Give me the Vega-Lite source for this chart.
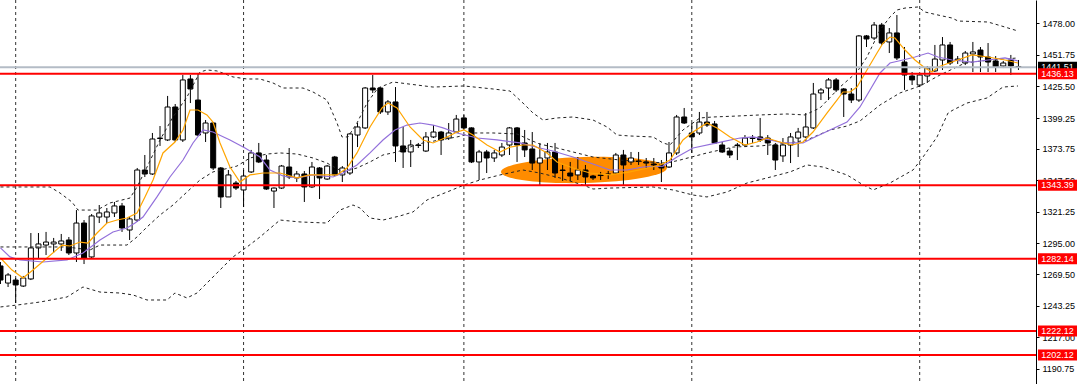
{
  "$schema": "https://vega.github.io/schema/vega-lite/v6.json",
  "width": 1036,
  "height": 384,
  "autosize": {"type": "none"},
  "padding": {"left": 0, "top": 0, "right": 44, "bottom": 0},
  "background": "white",
  "config": {
    "view": {"stroke": null},
    "scale": {"continuousPadding": 0},
    "axisY": {"orient": "right", "title": null, "grid": false, "format": ".2f", "labelFont": "Liberation Sans", "labelFontSize": 9, "labelColor": "black", "tickSize": 3, "tickColor": "black", "domainColor": "black", "labelPadding": 3, "labelOverlap": false}
  },
  "datasets": {
    "candles": [
      {"i":0,"o":1276.2,"h":1279.5,"l":1261.2,"c":1264.5},
      {"i":1,"o":1262.0,"h":1270.3,"l":1258.7,"c":1268.7},
      {"i":2,"o":1264.5,"h":1266.2,"l":1245.4,"c":1260.4},
      {"i":3,"o":1259.5,"h":1267.9,"l":1258.7,"c":1266.2},
      {"i":4,"o":1265.4,"h":1303.6,"l":1264.5,"c":1291.2},
      {"i":5,"o":1291.2,"h":1303.6,"l":1282.8,"c":1294.5},
      {"i":6,"o":1293.6,"h":1304.5,"l":1285.3,"c":1296.1},
      {"i":7,"o":1294.5,"h":1299.5,"l":1287.0,"c":1296.1},
      {"i":8,"o":1294.5,"h":1302.8,"l":1288.7,"c":1297.0},
      {"i":9,"o":1297.8,"h":1300.3,"l":1285.3,"c":1287.0},
      {"i":10,"o":1287.0,"h":1322.7,"l":1279.5,"c":1311.9},
      {"i":11,"o":1311.9,"h":1314.4,"l":1277.8,"c":1282.8},
      {"i":12,"o":1283.7,"h":1319.4,"l":1282.8,"c":1317.8},
      {"i":13,"o":1316.9,"h":1326.9,"l":1311.9,"c":1320.3},
      {"i":14,"o":1316.9,"h":1324.4,"l":1311.9,"c":1321.1},
      {"i":15,"o":1320.3,"h":1329.4,"l":1316.9,"c":1326.1},
      {"i":16,"o":1326.1,"h":1328.6,"l":1304.5,"c":1307.8},
      {"i":17,"o":1306.1,"h":1316.9,"l":1297.8,"c":1315.3},
      {"i":18,"o":1314.4,"h":1357.7,"l":1312.8,"c":1356.0},
      {"i":19,"o":1356.0,"h":1368.5,"l":1350.2,"c":1352.7},
      {"i":20,"o":1352.7,"h":1386.8,"l":1351.9,"c":1381.8},
      {"i":21,"o":1382.2,"h":1392.6,"l":1376.0,"c":1382.6},
      {"i":22,"o":1381.0,"h":1417.6,"l":1380.1,"c":1408.4},
      {"i":23,"o":1408.4,"h":1410.9,"l":1379.3,"c":1381.0},
      {"i":24,"o":1381.0,"h":1435.0,"l":1379.3,"c":1430.9},
      {"i":25,"o":1431.7,"h":1435.0,"l":1411.7,"c":1423.4},
      {"i":26,"o":1414.2,"h":1436.7,"l":1384.3,"c":1385.1},
      {"i":27,"o":1386.8,"h":1397.6,"l":1379.3,"c":1395.1},
      {"i":28,"o":1395.1,"h":1395.9,"l":1356.0,"c":1357.7},
      {"i":29,"o":1357.7,"h":1358.5,"l":1324.4,"c":1333.6},
      {"i":30,"o":1333.6,"h":1356.0,"l":1333.6,"c":1351.9},
      {"i":31,"o":1345.2,"h":1346.9,"l":1339.4,"c":1341.0},
      {"i":32,"o":1339.4,"h":1356.0,"l":1325.2,"c":1351.0},
      {"i":33,"o":1354.4,"h":1372.7,"l":1353.5,"c":1370.2},
      {"i":34,"o":1370.2,"h":1378.5,"l":1361.8,"c":1362.7},
      {"i":35,"o":1364.3,"h":1368.5,"l":1339.4,"c":1340.2},
      {"i":36,"o":1338.5,"h":1341.5,"l":1324.4,"c":1341.0},
      {"i":37,"o":1341.0,"h":1360.2,"l":1340.2,"c":1359.3},
      {"i":38,"o":1358.5,"h":1374.3,"l":1348.5,"c":1350.2},
      {"i":39,"o":1349.4,"h":1355.2,"l":1346.0,"c":1352.7},
      {"i":40,"o":1352.7,"h":1355.2,"l":1329.4,"c":1341.9},
      {"i":41,"o":1341.9,"h":1362.7,"l":1341.0,"c":1358.5},
      {"i":42,"o":1357.7,"h":1358.5,"l":1331.9,"c":1349.4},
      {"i":43,"o":1348.5,"h":1360.2,"l":1347.7,"c":1359.3},
      {"i":44,"o":1366.8,"h":1367.7,"l":1351.0,"c":1351.9},
      {"i":45,"o":1351.9,"h":1359.3,"l":1346.0,"c":1357.7},
      {"i":46,"o":1353.5,"h":1386.8,"l":1351.9,"c":1386.0},
      {"i":47,"o":1385.1,"h":1395.1,"l":1375.1,"c":1391.8},
      {"i":48,"o":1391.0,"h":1425.0,"l":1390.1,"c":1424.2},
      {"i":49,"o":1424.2,"h":1435.0,"l":1420.1,"c":1422.6},
      {"i":50,"o":1424.2,"h":1425.0,"l":1402.6,"c":1404.3},
      {"i":51,"o":1404.3,"h":1414.2,"l":1401.8,"c":1412.6},
      {"i":52,"o":1412.6,"h":1425.0,"l":1362.7,"c":1376.0},
      {"i":53,"o":1376.0,"h":1391.8,"l":1357.7,"c":1371.0},
      {"i":54,"o":1371.0,"h":1381.0,"l":1358.5,"c":1376.8},
      {"i":55,"o":1376.8,"h":1378.5,"l":1374.3,"c":1376.4},
      {"i":56,"o":1371.8,"h":1387.6,"l":1371.0,"c":1383.5},
      {"i":57,"o":1383.5,"h":1393.4,"l":1382.6,"c":1387.6},
      {"i":58,"o":1387.6,"h":1388.5,"l":1368.5,"c":1381.0},
      {"i":59,"o":1382.6,"h":1395.1,"l":1381.0,"c":1386.8},
      {"i":60,"o":1387.6,"h":1401.8,"l":1386.8,"c":1398.4},
      {"i":61,"o":1399.3,"h":1401.8,"l":1389.3,"c":1391.0},
      {"i":62,"o":1391.0,"h":1391.5,"l":1361.8,"c":1362.7},
      {"i":63,"o":1362.7,"h":1372.7,"l":1347.7,"c":1371.0},
      {"i":64,"o":1371.0,"h":1372.7,"l":1353.5,"c":1366.0},
      {"i":65,"o":1366.0,"h":1372.7,"l":1362.7,"c":1370.2},
      {"i":66,"o":1368.5,"h":1378.5,"l":1366.8,"c":1375.1},
      {"i":67,"o":1376.8,"h":1391.8,"l":1368.5,"c":1391.0},
      {"i":68,"o":1391.0,"h":1391.8,"l":1362.7,"c":1376.8},
      {"i":69,"o":1378.5,"h":1389.3,"l":1366.8,"c":1372.7},
      {"i":70,"o":1373.5,"h":1387.6,"l":1356.0,"c":1361.8},
      {"i":71,"o":1361.8,"h":1378.5,"l":1343.5,"c":1366.0},
      {"i":72,"o":1366.0,"h":1378.5,"l":1356.0,"c":1371.0},
      {"i":73,"o":1371.0,"h":1378.5,"l":1349.4,"c":1353.5},
      {"i":74,"o":1356.0,"h":1360.2,"l":1346.9,"c":1355.6},
      {"i":75,"o":1353.5,"h":1362.7,"l":1346.9,"c":1351.0},
      {"i":76,"o":1351.9,"h":1366.8,"l":1347.7,"c":1356.0},
      {"i":77,"o":1356.0,"h":1360.2,"l":1343.5,"c":1350.2},
      {"i":78,"o":1351.0,"h":1351.9,"l":1347.7,"c":1349.4},
      {"i":79,"o":1351.9,"h":1354.4,"l":1347.7,"c":1351.4},
      {"i":80,"o":1352.3,"h":1355.2,"l":1348.5,"c":1352.7},
      {"i":81,"o":1353.5,"h":1370.2,"l":1352.7,"c":1368.5},
      {"i":82,"o":1368.5,"h":1372.7,"l":1343.5,"c":1360.2},
      {"i":83,"o":1362.7,"h":1371.0,"l":1360.2,"c":1366.0},
      {"i":84,"o":1363.5,"h":1371.0,"l":1360.2,"c":1363.1},
      {"i":85,"o":1362.7,"h":1366.0,"l":1357.7,"c":1361.8},
      {"i":86,"o":1361.0,"h":1366.0,"l":1356.0,"c":1360.2},
      {"i":87,"o":1360.2,"h":1364.3,"l":1346.0,"c":1357.7},
      {"i":88,"o":1358.5,"h":1379.3,"l":1357.7,"c":1370.2},
      {"i":89,"o":1370.2,"h":1401.8,"l":1368.5,"c":1400.1},
      {"i":90,"o":1400.1,"h":1407.6,"l":1394.3,"c":1395.1},
      {"i":91,"o":1386.8,"h":1395.1,"l":1370.2,"c":1383.5},
      {"i":92,"o":1386.8,"h":1404.3,"l":1385.1,"c":1395.9},
      {"i":93,"o":1395.9,"h":1404.3,"l":1391.8,"c":1393.4},
      {"i":94,"o":1394.3,"h":1396.8,"l":1377.6,"c":1378.5},
      {"i":95,"o":1376.8,"h":1379.3,"l":1370.2,"c":1371.0},
      {"i":96,"o":1371.8,"h":1374.3,"l":1366.0,"c":1368.5},
      {"i":97,"o":1376.8,"h":1378.5,"l":1364.3,"c":1376.4},
      {"i":98,"o":1376.8,"h":1385.1,"l":1375.1,"c":1382.6},
      {"i":99,"o":1382.6,"h":1385.1,"l":1378.5,"c":1382.2},
      {"i":100,"o":1383.5,"h":1399.3,"l":1379.3,"c":1381.0},
      {"i":101,"o":1382.6,"h":1385.1,"l":1368.5,"c":1378.5},
      {"i":102,"o":1376.8,"h":1378.5,"l":1356.0,"c":1364.3},
      {"i":103,"o":1367.7,"h":1382.6,"l":1362.7,"c":1376.8},
      {"i":104,"o":1376.8,"h":1386.8,"l":1361.8,"c":1383.5},
      {"i":105,"o":1382.6,"h":1391.0,"l":1366.8,"c":1387.6},
      {"i":106,"o":1383.5,"h":1403.4,"l":1382.6,"c":1391.8},
      {"i":107,"o":1391.0,"h":1428.4,"l":1390.1,"c":1419.2},
      {"i":108,"o":1420.1,"h":1424.2,"l":1414.2,"c":1422.6},
      {"i":109,"o":1424.2,"h":1432.5,"l":1414.2,"c":1430.9},
      {"i":110,"o":1430.9,"h":1432.5,"l":1420.9,"c":1422.6},
      {"i":111,"o":1423.4,"h":1424.2,"l":1400.1,"c":1419.2},
      {"i":112,"o":1419.2,"h":1424.2,"l":1411.7,"c":1414.2},
      {"i":113,"o":1414.2,"h":1468.3,"l":1412.6,"c":1467.5},
      {"i":114,"o":1467.5,"h":1468.3,"l":1458.3,"c":1465.0},
      {"i":115,"o":1465.8,"h":1479.1,"l":1464.1,"c":1476.6},
      {"i":116,"o":1476.6,"h":1478.3,"l":1460.0,"c":1461.6},
      {"i":117,"o":1462.5,"h":1474.1,"l":1453.3,"c":1470.0},
      {"i":118,"o":1470.0,"h":1484.9,"l":1447.5,"c":1449.2},
      {"i":119,"o":1445.8,"h":1458.3,"l":1422.6,"c":1435.0},
      {"i":120,"o":1434.2,"h":1437.5,"l":1426.7,"c":1430.9},
      {"i":121,"o":1426.7,"h":1436.7,"l":1425.0,"c":1435.0},
      {"i":122,"o":1434.2,"h":1442.5,"l":1428.4,"c":1440.8},
      {"i":123,"o":1438.4,"h":1460.0,"l":1437.5,"c":1448.3},
      {"i":124,"o":1447.5,"h":1466.6,"l":1439.2,"c":1460.0},
      {"i":125,"o":1460.0,"h":1462.5,"l":1443.3,"c":1445.0},
      {"i":126,"o":1447.5,"h":1450.8,"l":1444.2,"c":1448.3},
      {"i":127,"o":1445.0,"h":1455.0,"l":1443.3,"c":1453.3},
      {"i":128,"o":1452.5,"h":1462.5,"l":1437.5,"c":1454.2},
      {"i":129,"o":1455.8,"h":1458.3,"l":1437.5,"c":1450.0},
      {"i":130,"o":1450.0,"h":1461.6,"l":1437.5,"c":1445.8},
      {"i":131,"o":1446.7,"h":1450.8,"l":1437.5,"c":1441.7},
      {"i":132,"o":1442.5,"h":1446.7,"l":1440.8,"c":1445.0},
      {"i":133,"o":1447.5,"h":1451.7,"l":1435.0,"c":1442.5},
      {"i":134,"o":1442.1,"h":1447.5,"l":1439.2,"c":1441.51}
    ],
    "orange": [
      {"i":0,"p":1282.8},{"i":1.52,"p":1272.8},{"i":2.96,"p":1266.2},{"i":4.28,"p":1272.8},{"i":6.12,"p":1282.8},
      {"i":8.1,"p":1293.6},{"i":9.15,"p":1292.8},{"i":10.47,"p":1296.1},{"i":11.52,"p":1295.3},{"i":12.71,"p":1303.6},
      {"i":14.02,"p":1311.9},{"i":15.34,"p":1314.4},{"i":16.65,"p":1316.1},{"i":17.97,"p":1320.3},{"i":19.02,"p":1333.6},
      {"i":20.08,"p":1347.7},{"i":21.39,"p":1370.2},{"i":22.97,"p":1379.3},{"i":24.03,"p":1389.3},{"i":24.95,"p":1405.9},
      {"i":26.0,"p":1405.9},{"i":27.18,"p":1401.8},{"i":27.97,"p":1395.9},{"i":28.9,"p":1378.5},{"i":30.21,"p":1358.5},
      {"i":31.53,"p":1346.0},{"i":32.84,"p":1351.9},{"i":34.55,"p":1353.5},{"i":36.79,"p":1353.5},{"i":39.03,"p":1349.4},
      {"i":40.74,"p":1351.9},{"i":44.3,"p":1351.9},{"i":45.61,"p":1357.7},{"i":46.93,"p":1370.2},{"i":48.64,"p":1391.8},
      {"i":50.22,"p":1407.6},{"i":51.01,"p":1411.7},{"i":52.2,"p":1407.6},{"i":53.91,"p":1391.8},{"i":55.62,"p":1381.0},
      {"i":56.94,"p":1378.5},{"i":58.78,"p":1383.5},{"i":60.1,"p":1387.6},{"i":61.02,"p":1389.3},{"i":62.2,"p":1385.1},
      {"i":64.04,"p":1376.8},{"i":65.76,"p":1371.0},{"i":67.07,"p":1375.1},{"i":68.78,"p":1376.8},{"i":70.1,"p":1376.8},
      {"i":71.94,"p":1370.2},{"i":73.26,"p":1362.7},{"i":75.36,"p":1357.7},{"i":77.6,"p":1353.5},{"i":80.24,"p":1351.9},
      {"i":82.87,"p":1354.4},{"i":85.24,"p":1357.7},{"i":86.82,"p":1360.2},{"i":88.13,"p":1364.3},{"i":89.84,"p":1381.0},
      {"i":91.16,"p":1387.6},{"i":93.0,"p":1395.1},{"i":94.32,"p":1391.0},{"i":96.03,"p":1383.5},{"i":98.0,"p":1376.8},
      {"i":99.58,"p":1379.3},{"i":100.9,"p":1382.6},{"i":103.01,"p":1378.5},{"i":104.32,"p":1376.8},{"i":105.64,"p":1379.3},
      {"i":106.95,"p":1387.6},{"i":108.79,"p":1403.4},{"i":110.11,"p":1414.2},{"i":110.9,"p":1420.9},{"i":111.83,"p":1420.9},
      {"i":112.75,"p":1425.0},{"i":114.06,"p":1439.2},{"i":115.38,"p":1453.3},{"i":116.18,"p":1461.6},{"i":117.09,"p":1466.6},
      {"i":117.75,"p":1465.8},{"i":119.07,"p":1455.8},{"i":120.38,"p":1447.5},{"i":121.7,"p":1440.9},{"i":122.62,"p":1437.5},
      {"i":123.41,"p":1441.7},{"i":125.26,"p":1445.8},{"i":127.89,"p":1451.7},{"i":129.99,"p":1450.0},{"i":132.23,"p":1447.5},
      {"i":133.94,"p":1445.0}
    ],
    "purple": [
      {"i":0,"p":1291.2},{"i":1.25,"p":1283.7},{"i":2.57,"p":1281.2},{"i":5.6,"p":1279.5},{"i":8.76,"p":1281.2},
      {"i":10.86,"p":1287.0},{"i":13.1,"p":1297.8},{"i":14.81,"p":1304.5},{"i":16.65,"p":1307.8},{"i":17.71,"p":1311.9},
      {"i":18.76,"p":1316.9},{"i":20.6,"p":1333.6},{"i":22.31,"p":1350.2},{"i":24.03,"p":1364.3},{"i":25.34,"p":1378.5},
      {"i":26.66,"p":1389.3},{"i":27.97,"p":1387.6},{"i":30.21,"p":1381.0},{"i":32.19,"p":1374.3},{"i":34.16,"p":1366.8},
      {"i":35.48,"p":1356.0},{"i":37.19,"p":1351.0},{"i":39.03,"p":1349.4},{"i":41.14,"p":1351.9},{"i":43.77,"p":1350.2},
      {"i":45.09,"p":1353.5},{"i":46.93,"p":1360.2},{"i":48.64,"p":1370.2},{"i":50.35,"p":1381.0},{"i":51.93,"p":1389.3},
      {"i":53.51,"p":1393.4},{"i":55.22,"p":1395.1},{"i":56.94,"p":1393.4},{"i":58.25,"p":1391.0},{"i":60.1,"p":1386.8},
      {"i":62.73,"p":1382.6},{"i":65.36,"p":1381.0},{"i":68.39,"p":1378.5},{"i":70.99,"p":1374.3},{"i":72.73,"p":1371.8},
      {"i":75.36,"p":1366.8},{"i":78.0,"p":1361.0},{"i":80.24,"p":1356.0},{"i":82.48,"p":1356.0},{"i":84.58,"p":1358.5},
      {"i":87.21,"p":1359.3},{"i":89.05,"p":1366.8},{"i":91.16,"p":1374.3},{"i":94.32,"p":1378.5},{"i":97.34,"p":1382.6},
      {"i":99.05,"p":1383.5},{"i":101.3,"p":1381.0},{"i":103.01,"p":1378.5},{"i":105.64,"p":1378.5},{"i":106.95,"p":1382.6},
      {"i":109.19,"p":1389.3},{"i":111.43,"p":1395.9},{"i":113.14,"p":1408.4},{"i":114.46,"p":1422.6},{"i":115.78,"p":1436.7},
      {"i":117.09,"p":1445.0},{"i":118.8,"p":1447.5},{"i":120.38,"p":1450.0},{"i":122.1,"p":1453.3},{"i":123.41,"p":1450.0},
      {"i":125.26,"p":1447.5},{"i":127.89,"p":1445.8},{"i":129.99,"p":1447.5},{"i":132.23,"p":1449.2},{"i":133.94,"p":1446.7}
    ],
    "bands": [
      {"s":"u","i":0,"p":1341.9},{"s":"u","i":6.52,"p":1341.9},{"s":"u","i":7.83,"p":1336.9},{"s":"u","i":9.41,"p":1329.4},
      {"s":"u","i":10.2,"p":1322.7},{"s":"u","i":12.71,"p":1322.7},{"s":"u","i":14.42,"p":1328.6},{"s":"u","i":17.05,"p":1332.7},
      {"s":"u","i":17.97,"p":1341.9},{"s":"u","i":19.29,"p":1358.5},{"s":"u","i":21.0,"p":1381.0},{"s":"u","i":22.71,"p":1400.1},
      {"s":"u","i":24.55,"p":1416.7},{"s":"u","i":26.26,"p":1437.5},{"s":"u","i":27.18,"p":1439.2},{"s":"u","i":28.5,"p":1438.4},
      {"s":"u","i":30.61,"p":1433.4},{"s":"u","i":32.45,"p":1431.7},{"s":"u","i":34.16,"p":1431.7},{"s":"u","i":35.87,"p":1428.4},
      {"s":"u","i":37.19,"p":1424.2},{"s":"u","i":39.82,"p":1424.2},{"s":"u","i":41.14,"p":1420.9},{"s":"u","i":42.98,"p":1414.2},
      {"s":"u","i":44.3,"p":1395.1},{"s":"u","i":44.96,"p":1383.5},{"s":"u","i":45.74,"p":1383.5},{"s":"u","i":46.93,"p":1395.1},
      {"s":"u","i":48.25,"p":1411.7},{"s":"u","i":49.69,"p":1424.2},{"s":"u","i":51.67,"p":1429.2},{"s":"u","i":56.94,"p":1425.0},
      {"s":"u","i":61.02,"p":1425.9},{"s":"u","i":64.83,"p":1423.4},{"s":"u","i":67.07,"p":1421.7},{"s":"u","i":68.78,"p":1411.7},
      {"s":"u","i":70.1,"p":1403.4},{"s":"u","i":71.41,"p":1397.6},{"s":"u","i":73.26,"p":1399.3},{"s":"u","i":75.36,"p":1400.1},
      {"s":"u","i":78.0,"p":1397.6},{"s":"u","i":79.84,"p":1391.8},{"s":"u","i":81.16,"p":1385.1},{"s":"u","i":82.87,"p":1384.3},
      {"s":"u","i":85.9,"p":1383.5},{"s":"u","i":87.21,"p":1378.5},{"s":"u","i":88.13,"p":1376.8},{"s":"u","i":89.84,"p":1389.3},
      {"s":"u","i":92.08,"p":1399.3},{"s":"u","i":93.79,"p":1400.1},{"s":"u","i":96.95,"p":1400.9},{"s":"u","i":99.98,"p":1401.8},
      {"s":"u","i":103.53,"p":1402.6},{"s":"u","i":105.9,"p":1401.8},{"s":"u","i":107.87,"p":1407.6},{"s":"u","i":110.51,"p":1425.0},
      {"s":"u","i":112.75,"p":1437.5},{"s":"u","i":114.06,"p":1450.0},{"s":"u","i":115.78,"p":1472.4},{"s":"u","i":117.09,"p":1483.3},
      {"s":"u","i":118.01,"p":1489.1},{"s":"u","i":119.07,"p":1490.7},{"s":"u","i":120.78,"p":1491.6},{"s":"u","i":121.7,"p":1487.4},
      {"s":"u","i":123.41,"p":1484.9},{"s":"u","i":125.26,"p":1482.4},{"s":"u","i":126.05,"p":1479.9},{"s":"u","i":129.99,"p":1479.1},
      {"s":"u","i":132.23,"p":1474.9},{"s":"u","i":133.94,"p":1471.6},
      {"s":"m","i":0,"p":1292.0},{"s":"m","i":8.76,"p":1292.0},{"s":"m","i":11.78,"p":1289.5},{"s":"m","i":13.1,"p":1293.6},
      {"s":"m","i":16.65,"p":1293.6},{"s":"m","i":17.97,"p":1300.3},{"s":"m","i":19.29,"p":1308.6},{"s":"m","i":21.0,"p":1318.6},
      {"s":"m","i":22.71,"p":1326.9},{"s":"m","i":24.55,"p":1337.7},{"s":"m","i":26.26,"p":1347.7},{"s":"m","i":27.97,"p":1354.4},
      {"s":"m","i":31.13,"p":1359.3},{"s":"m","i":32.84,"p":1366.0},{"s":"m","i":35.08,"p":1369.3},{"s":"m","i":36.79,"p":1370.2},
      {"s":"m","i":39.03,"p":1369.3},{"s":"m","i":41.14,"p":1366.0},{"s":"m","i":42.98,"p":1361.8},{"s":"m","i":45.09,"p":1354.4},
      {"s":"m","i":46.93,"p":1357.7},{"s":"m","i":48.64,"p":1362.7},{"s":"m","i":50.35,"p":1368.5},{"s":"m","i":52.2,"p":1371.0},
      {"s":"m","i":53.91,"p":1375.1},{"s":"m","i":55.62,"p":1378.5},{"s":"m","i":57.86,"p":1381.0},{"s":"m","i":60.1,"p":1383.5},
      {"s":"m","i":62.2,"p":1386.8},{"s":"m","i":64.83,"p":1386.8},{"s":"m","i":67.99,"p":1386.0},{"s":"m","i":69.7,"p":1381.0},
      {"s":"m","i":70.99,"p":1377.6},{"s":"m","i":72.73,"p":1375.1},{"s":"m","i":75.36,"p":1371.0},{"s":"m","i":78.0,"p":1366.8},
      {"s":"m","i":81.55,"p":1364.3},{"s":"m","i":85.11,"p":1362.7},{"s":"m","i":87.74,"p":1361.8},{"s":"m","i":89.45,"p":1364.3},
      {"s":"m","i":93.0,"p":1370.2},{"s":"m","i":96.42,"p":1375.1},{"s":"m","i":99.98,"p":1376.0},{"s":"m","i":103.93,"p":1378.5},
      {"s":"m","i":106.16,"p":1381.0},{"s":"m","i":109.19,"p":1389.3},{"s":"m","i":111.43,"p":1392.6},{"s":"m","i":113.14,"p":1396.8},
      {"s":"m","i":115.78,"p":1410.1},{"s":"m","i":118.41,"p":1420.1},{"s":"m","i":121.04,"p":1425.9},{"s":"m","i":123.67,"p":1435.0},
      {"s":"m","i":126.97,"p":1445.0},{"s":"m","i":130.25,"p":1447.5},{"s":"m","i":133.94,"p":1449.2},
      {"s":"l","i":0,"p":1242.1},{"s":"l","i":2.17,"p":1243.7},{"s":"l","i":5.2,"p":1246.2},{"s":"l","i":8.76,"p":1250.4},
      {"s":"l","i":10.86,"p":1258.7},{"s":"l","i":13.1,"p":1254.5},{"s":"l","i":15.73,"p":1253.7},{"s":"l","i":17.44,"p":1252.1},
      {"s":"l","i":19.29,"p":1247.9},{"s":"l","i":21.92,"p":1247.9},{"s":"l","i":22.97,"p":1253.7},{"s":"l","i":24.55,"p":1249.6},
      {"s":"l","i":25.87,"p":1253.7},{"s":"l","i":27.97,"p":1267.0},{"s":"l","i":30.61,"p":1283.7},{"s":"l","i":32.45,"p":1292.0},
      {"s":"l","i":34.16,"p":1300.3},{"s":"l","i":36.79,"p":1314.4},{"s":"l","i":39.43,"p":1312.8},{"s":"l","i":42.98,"p":1311.9},
      {"s":"l","i":44.69,"p":1322.7},{"s":"l","i":46.4,"p":1326.9},{"s":"l","i":47.32,"p":1324.4},{"s":"l","i":48.64,"p":1316.1},
      {"s":"l","i":50.35,"p":1314.4},{"s":"l","i":52.59,"p":1317.8},{"s":"l","i":54.3,"p":1321.1},{"s":"l","i":56.15,"p":1331.1},
      {"s":"l","i":58.78,"p":1337.7},{"s":"l","i":61.02,"p":1343.5},{"s":"l","i":63.12,"p":1347.7},{"s":"l","i":65.76,"p":1351.9},
      {"s":"l","i":68.78,"p":1356.0},{"s":"l","i":70.99,"p":1353.5},{"s":"l","i":73.65,"p":1349.4},{"s":"l","i":76.68,"p":1343.5},
      {"s":"l","i":78.0,"p":1340.2},{"s":"l","i":80.24,"p":1341.0},{"s":"l","i":85.9,"p":1341.9},{"s":"l","i":88.53,"p":1339.4},
      {"s":"l","i":91.16,"p":1335.2},{"s":"l","i":93.0,"p":1333.6},{"s":"l","i":95.63,"p":1337.7},{"s":"l","i":98.27,"p":1345.2},
      {"s":"l","i":100.9,"p":1349.4},{"s":"l","i":103.93,"p":1354.4},{"s":"l","i":106.16,"p":1360.2},{"s":"l","i":108.27,"p":1358.5},
      {"s":"l","i":111.43,"p":1351.9},{"s":"l","i":113.14,"p":1345.2},{"s":"l","i":114.86,"p":1339.4},{"s":"l","i":117.09,"p":1345.2},
      {"s":"l","i":120.12,"p":1356.0},{"s":"l","i":121.44,"p":1366.8},{"s":"l","i":123.28,"p":1383.5},{"s":"l","i":124.73,"p":1403.4},
      {"s":"l","i":125.39,"p":1405.9},{"s":"l","i":127.23,"p":1411.7},{"s":"l","i":129.86,"p":1415.9},{"s":"l","i":131.96,"p":1425.0},
      {"s":"l","i":133.94,"p":1425.9}
    ],
    "grid": [{"i":2},{"i":32},{"i":61},{"i":91},{"i":121}],
    "ellipse": [{"i":76.81,"p":1356.0}],
    "bid": [{"p":1441.51,"t":"1441.51"}],
    "levels": [
      {"p":1436.13,"t":"1436.13"},
      {"p":1343.39,"t":"1343.39"},
      {"p":1282.14,"t":"1282.14"},
      {"p":1222.12,"t":"1222.12"},
      {"p":1202.12,"t":"1202.12"}
    ]
  },
  "layer": [
    {
      "data": {"name": "ellipse"},
      "mark": {"type": "point", "filled": true, "opacity": 1, "strokeWidth": 0, "color": "#FF8C00", "size": 27556, "angle": -1.4,
        "shape": "M-1,0 C-1,-0.0867 -0.5523,-0.157 0,-0.157 C0.5523,-0.157 1,-0.0867 1,0 C1,0.0867 0.5523,0.157 0,0.157 C-0.5523,0.157 -1,0.0867 -1,0 Z"},
      "encoding": {
        "x": {"field": "i", "type": "quantitative", "scale": {"domain": [-0.063, 136.31], "nice": false, "zero": false, "padding": 0}, "axis": null},
        "y": {"field": "p", "type": "quantitative", "scale": {"domain": [1178.03, 1497.4], "nice": false, "zero": false, "padding": 0},
          "axis": {"orient": "right", "title": null, "values": [1478, 1451.75, 1425.5, 1399.25, 1373.75, 1347.5, 1321.25, 1295, 1269.5, 1243.25, 1217, 1190.75]}}
      }
    },
    {
      "data": {"name": "grid"},
      "mark": {"type": "rule", "color": "#333333", "strokeWidth": 1, "strokeDash": [3, 3]},
      "encoding": {
        "x": {"field": "i", "type": "quantitative", "scale": {"domain": [-0.063, 136.31], "nice": false, "zero": false, "padding": 0}, "axis": null}
      }
    },
    {
      "data": {"name": "candles"},
      "mark": {"type": "rule", "color": "black", "strokeWidth": 1},
      "encoding": {
        "x": {"field": "i", "type": "quantitative", "scale": {"domain": [-0.063, 136.31], "nice": false, "zero": false, "padding": 0}, "axis": null},
        "y": {"field": "l", "type": "quantitative", "scale": {"domain": [1178.03, 1497.4], "nice": false, "zero": false, "padding": 0},
          "axis": {"orient": "right", "title": null, "values": [1478, 1451.75, 1425.5, 1399.25, 1373.75, 1347.5, 1321.25, 1295, 1269.5, 1243.25, 1217, 1190.75]}},
        "y2": {"field": "h"}
      }
    },
    {
      "data": {"name": "candles"},
      "mark": {"type": "bar", "size": 5, "stroke": "black", "strokeWidth": 1},
      "encoding": {
        "x": {"field": "i", "type": "quantitative", "scale": {"domain": [-0.063, 136.31], "nice": false, "zero": false, "padding": 0}, "axis": null},
        "y": {"field": "o", "type": "quantitative", "scale": {"domain": [1178.03, 1497.4], "nice": false, "zero": false, "padding": 0},
          "axis": {"orient": "right", "title": null, "values": [1478, 1451.75, 1425.5, 1399.25, 1373.75, 1347.5, 1321.25, 1295, 1269.5, 1243.25, 1217, 1190.75]}},
        "y2": {"field": "c"},
        "fill": {"condition": {"test": "datum.c >= datum.o", "value": "white"}, "value": "black"}
      }
    },
    {
      "data": {"name": "bands"},
      "mark": {"type": "line", "color": "#222222", "strokeWidth": 1, "strokeDash": [3, 3]},
      "encoding": {
        "x": {"field": "i", "type": "quantitative", "scale": {"domain": [-0.063, 136.31], "nice": false, "zero": false, "padding": 0}, "axis": null},
        "y": {"field": "p", "type": "quantitative", "scale": {"domain": [1178.03, 1497.4], "nice": false, "zero": false, "padding": 0},
          "axis": {"orient": "right", "title": null, "values": [1478, 1451.75, 1425.5, 1399.25, 1373.75, 1347.5, 1321.25, 1295, 1269.5, 1243.25, 1217, 1190.75]}},
        "detail": {"field": "s", "type": "nominal"}
      }
    },
    {
      "data": {"name": "purple"},
      "mark": {"type": "line", "color": "#9370DB", "strokeWidth": 1.2},
      "encoding": {
        "x": {"field": "i", "type": "quantitative", "scale": {"domain": [-0.063, 136.31], "nice": false, "zero": false, "padding": 0}, "axis": null},
        "y": {"field": "p", "type": "quantitative", "scale": {"domain": [1178.03, 1497.4], "nice": false, "zero": false, "padding": 0},
          "axis": {"orient": "right", "title": null, "values": [1478, 1451.75, 1425.5, 1399.25, 1373.75, 1347.5, 1321.25, 1295, 1269.5, 1243.25, 1217, 1190.75]}}
      }
    },
    {
      "data": {"name": "orange"},
      "mark": {"type": "line", "color": "#FFA500", "strokeWidth": 1.2},
      "encoding": {
        "x": {"field": "i", "type": "quantitative", "scale": {"domain": [-0.063, 136.31], "nice": false, "zero": false, "padding": 0}, "axis": null},
        "y": {"field": "p", "type": "quantitative", "scale": {"domain": [1178.03, 1497.4], "nice": false, "zero": false, "padding": 0},
          "axis": {"orient": "right", "title": null, "values": [1478, 1451.75, 1425.5, 1399.25, 1373.75, 1347.5, 1321.25, 1295, 1269.5, 1243.25, 1217, 1190.75]}}
      }
    },
    {
      "data": {"name": "bid"},
      "mark": {"type": "rule", "color": "#B4BCC6", "strokeWidth": 2},
      "encoding": {
        "y": {"field": "p", "type": "quantitative", "scale": {"domain": [1178.03, 1497.4], "nice": false, "zero": false, "padding": 0},
          "axis": {"orient": "right", "title": null, "values": [1478, 1451.75, 1425.5, 1399.25, 1373.75, 1347.5, 1321.25, 1295, 1269.5, 1243.25, 1217, 1190.75]}}
      }
    },
    {
      "data": {"name": "levels"},
      "mark": {"type": "rule", "color": "#FF0000", "strokeWidth": 2},
      "encoding": {
        "y": {"field": "p", "type": "quantitative", "scale": {"domain": [1178.03, 1497.4], "nice": false, "zero": false, "padding": 0},
          "axis": {"orient": "right", "title": null, "values": [1478, 1451.75, 1425.5, 1399.25, 1373.75, 1347.5, 1321.25, 1295, 1269.5, 1243.25, 1217, 1190.75]}}
      }
    },
    {
      "data": {"name": "bid"},
      "mark": {"type": "tick", "orient": "horizontal", "size": 39, "thickness": 11, "color": "black", "opacity": 1},
      "encoding": {
        "x": {"datum": 139.14, "type": "quantitative", "scale": {"domain": [-0.063, 136.31], "nice": false, "zero": false, "padding": 0}, "axis": null},
        "y": {"field": "p", "type": "quantitative", "scale": {"domain": [1178.03, 1497.4], "nice": false, "zero": false, "padding": 0},
          "axis": {"orient": "right", "title": null, "values": [1478, 1451.75, 1425.5, 1399.25, 1373.75, 1347.5, 1321.25, 1295, 1269.5, 1243.25, 1217, 1190.75]}}
      }
    },
    {
      "data": {"name": "bid"},
      "mark": {"type": "text", "color": "white", "font": "Liberation Sans", "fontSize": 9, "align": "center", "baseline": "middle"},
      "encoding": {
        "x": {"datum": 139.14, "type": "quantitative", "scale": {"domain": [-0.063, 136.31], "nice": false, "zero": false, "padding": 0}, "axis": null},
        "y": {"field": "p", "type": "quantitative", "scale": {"domain": [1178.03, 1497.4], "nice": false, "zero": false, "padding": 0},
          "axis": {"orient": "right", "title": null, "values": [1478, 1451.75, 1425.5, 1399.25, 1373.75, 1347.5, 1321.25, 1295, 1269.5, 1243.25, 1217, 1190.75]}},
        "text": {"field": "t", "type": "nominal"}
      }
    },
    {
      "data": {"name": "levels"},
      "mark": {"type": "tick", "orient": "horizontal", "size": 39, "thickness": 11, "color": "#FF0000", "opacity": 1},
      "encoding": {
        "x": {"datum": 139.14, "type": "quantitative", "scale": {"domain": [-0.063, 136.31], "nice": false, "zero": false, "padding": 0}, "axis": null},
        "y": {"field": "p", "type": "quantitative", "scale": {"domain": [1178.03, 1497.4], "nice": false, "zero": false, "padding": 0},
          "axis": {"orient": "right", "title": null, "values": [1478, 1451.75, 1425.5, 1399.25, 1373.75, 1347.5, 1321.25, 1295, 1269.5, 1243.25, 1217, 1190.75]}}
      }
    },
    {
      "data": {"name": "levels"},
      "mark": {"type": "text", "color": "white", "font": "Liberation Sans", "fontSize": 9, "align": "center", "baseline": "middle"},
      "encoding": {
        "x": {"datum": 139.14, "type": "quantitative", "scale": {"domain": [-0.063, 136.31], "nice": false, "zero": false, "padding": 0}, "axis": null},
        "y": {"field": "p", "type": "quantitative", "scale": {"domain": [1178.03, 1497.4], "nice": false, "zero": false, "padding": 0},
          "axis": {"orient": "right", "title": null, "values": [1478, 1451.75, 1425.5, 1399.25, 1373.75, 1347.5, 1321.25, 1295, 1269.5, 1243.25, 1217, 1190.75]}},
        "text": {"field": "t", "type": "nominal"}
      }
    }
  ]
}
